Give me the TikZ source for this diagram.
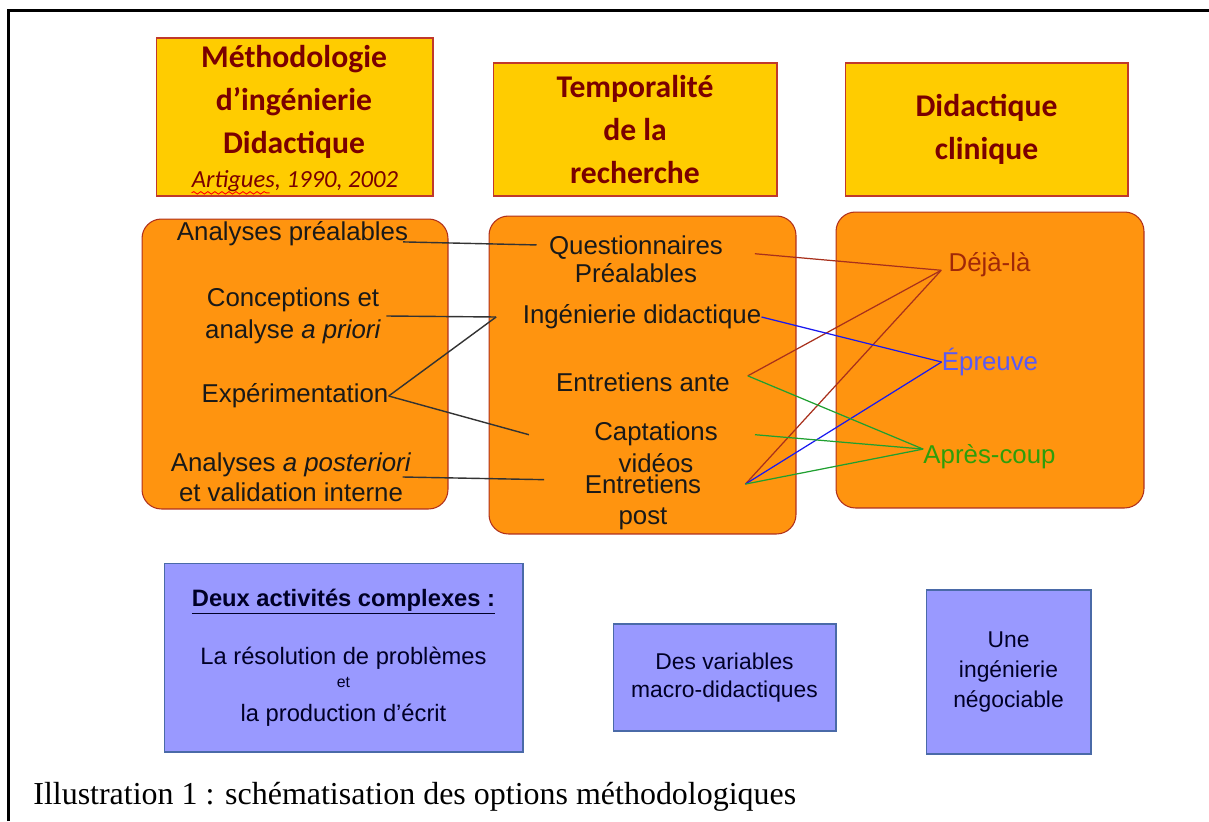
\documentclass[tikz,border=0pt]{standalone}
\usepackage{fontspec}
\setmainfont{Liberation Serif}
\setsansfont{Liberation Sans}
\newfontfamily\titrefont{Carlito}
\usetikzlibrary{positioning, decorations.pathmorphing}
\definecolor{jauneTitre}{HTML}{FFCC00}
\definecolor{rougeBord}{HTML}{C0392B}
\definecolor{rougeTitre}{HTML}{7A0000}
\definecolor{orangeBloc}{HTML}{FF940F}
\definecolor{bordBloc}{HTML}{B0301C}
\definecolor{bleuBloc}{HTML}{9999FF}
\definecolor{bleuBord}{HTML}{4A6AA8}
\definecolor{rougeLien}{HTML}{A8301C}
\definecolor{bleuLien}{HTML}{1A1AF0}
\definecolor{vertLien}{HTML}{1FA030}
\definecolor{texteDeja}{HTML}{A02808}
\definecolor{texteEpreuve}{HTML}{5A5AF5}
\definecolor{texteApres}{HTML}{2E9E0A}

\begin{document}
\begin{tikzpicture}[
    x=0.02cm, y=-0.02cm,
    titre/.style={draw=rougeBord, fill=jauneTitre, line width=0.6pt, text=rougeTitre, font=\titrefont\bfseries\fontsize{18}{24.5}\selectfont, align=center},
    bloc/.style={draw=bordBloc, fill=orangeBloc, line width=0.6pt, rounded corners=11pt},
    item/.style={font=\sffamily\fontsize{14.7}{18}\selectfont, inner sep=0pt, align=center, text=black!90},
    note/.style={draw=bleuBord, fill=bleuBloc, line width=0.6pt, font=\sffamily\fontsize{13}{16}\selectfont, align=center, text=black!85!blue},
    lien/.style={draw=black!80, line width=0.8pt},
    fil/.style={line width=0.7pt}
]
    \useasboundingbox (0,0) rectangle (1209,821);
    \draw[line width=1.5pt] (8.5,821) -- (8.5,10.5) -- (1209,10.5);

    \node[titre, minimum width=5.54cm, minimum height=3.16cm] (cadreA) at (294.5,117) {};
    \node[titre, draw=none, fill=none] (titreA) at (294,102) {Méthodologie\\d’ingénierie\\Didactique};
    \node[text=rougeTitre, font=\titrefont\itshape\fontsize{14}{16}\selectfont, inner sep=0pt] (ref) at (295,181) {Artigues, 1990, 2002};
    \draw[red, line width=0.5pt, decorate, decoration={snake, amplitude=0.7pt, segment length=4pt}]
        ([yshift=-0.5pt]ref.south west) -- ++(78,0);
    \node[titre, minimum width=5.68cm, minimum height=2.66cm] (titreB) at (635,129.5) {Temporalité\\de la\\recherche};
    \node[titre, minimum width=5.66cm, minimum height=2.66cm] (titreC) at (986.5,129.5) {Didactique\\clinique};

    \node[bloc, minimum width=6.12cm, minimum height=5.80cm] (blocA) at (295,364) {};
    \node[bloc, minimum width=6.14cm, minimum height=6.36cm] (blocB) at (642.5,375) {};
    \node[bloc, minimum width=6.16cm, minimum height=5.92cm] (blocC) at (990,360) {};

    \node[item] (apre) at (292.5,234) {Analyses préalables};
    \node[item] (concep) at (293,316) {Conceptions et\\analyse \textit{a priori}};
    \node[item] (experi) at (295,396) {Expérimentation};
    \node[item, font=\sffamily\fontsize{14.7}{17}\selectfont] (apost) at (291,477) {Analyses \textit{a posteriori}\\et validation interne};

    \node[item, font=\sffamily\fontsize{14.7}{16}\selectfont] (quest) at (636,259) {Questionnaires\\Préalables};
    \node[item] (ingdid) at (642,317) {Ingénierie didactique};
    \node[item] (entante) at (643,382) {Entretiens ante};
    \node[item] (capt) at (656,447) {Captations\\vidéos};
    \node[item, font=\sffamily\fontsize{14.7}{17.6}\selectfont] (entpost) at (643,502.5) {Entretiens\\post};

    \node[item, text=texteDeja] (deja) at (989.5,265) {Déjà-là};
    \node[item, text=texteEpreuve] (epreuve) at (990,362) {Épreuve};
    \node[item, text=texteApres] (apres) at (989.5,457) {Après-coup};

    \coordinate (questG) at ([shift={(-7pt,8pt)}]quest.west);
    \coordinate (questD) at ([shift={(18pt,3pt)}]quest.east);
    \coordinate (ingG) at ([xshift=-15pt]ingdid.west);
    \coordinate (anteD) at ([shift={(10pt,3.5pt)}]entante.east);
    \coordinate (captG) at ([shift={(-37pt,7pt)}]capt.west);
    \coordinate (captD) at ([shift={(21pt,7pt)}]capt.east);
    \coordinate (postG) at ([shift={(-23pt,13pt)}]entpost.west);
    \coordinate (postD) at ([shift={(25pt,10.5pt)}]entpost.east);
    \coordinate (dejaG) at ([shift={(-4pt,-3pt)}]deja.west);
    \coordinate (apresG) at ([yshift=4.5pt]apres.west);

    \draw[lien] ([shift={(-3pt,-4.5pt)}]apre.east) -- (questG);
    \draw[lien] ([xshift=3pt]concep.east) -- (ingG);
    \draw[lien] (experi.east) -- (ingG);
    \draw[lien] (experi.east) -- (captG);
    \draw[lien] ([xshift=-5pt]apost.east) -- (postG);

    \draw[fil, rougeLien] (questD) -- (dejaG);
    \draw[fil, rougeLien] (anteD) -- (dejaG);
    \draw[fil, rougeLien] (postD) -- (dejaG);
    \draw[fil, bleuLien] (ingdid.east) -- (epreuve.west);
    \draw[fil, bleuLien] (postD) -- (epreuve.west);
    \draw[fil, vertLien] (anteD) -- (apresG);
    \draw[fil, vertLien] (captD) -- (apresG);
    \draw[fil, vertLien] (postD) -- (apresG);

    \node[note, font=\sffamily\fontsize{13.5}{16}\selectfont, minimum width=7.18cm, minimum height=3.78cm] (bas1) at (343.5,657.5)
        {{\bfseries\underline{Deux activités complexes :}}\\[17pt]La résolution de problèmes\\[-3pt]{\fontsize{9}{10}\selectfont et}\\[3.5pt]la production d'écrit};
    \node[note, minimum width=4.46cm, minimum height=2.14cm] (bas2) at (724.5,677.5) {Des variables\\macro-didactiques};
    \node[note, font=\sffamily\fontsize{13}{17}\selectfont, minimum width=3.30cm, minimum height=3.28cm] (bas3) at (1008.5,672) {Une\\ingénierie\\négociable};

    \node[anchor=west, inner sep=0pt, font=\fontsize{18.2}{20}\selectfont] (legende) at (33,797) {Illustration 1 : schématisation des options méthodologiques};
\end{tikzpicture}
\end{document}
